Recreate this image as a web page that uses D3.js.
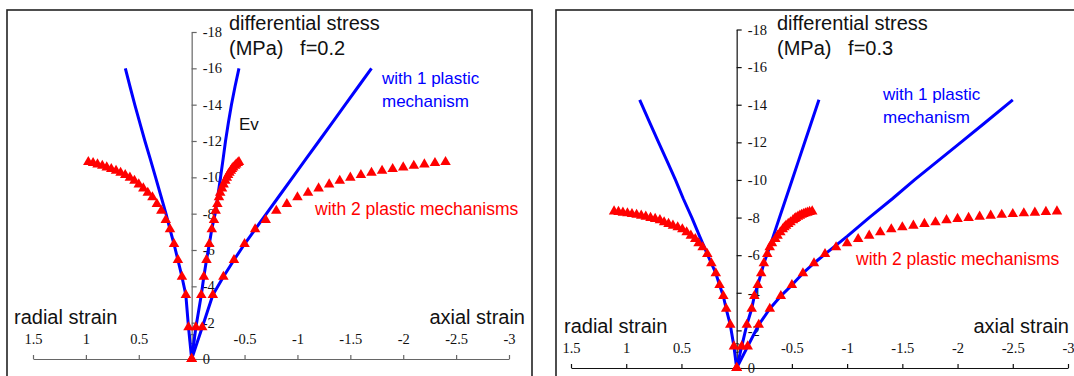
<!DOCTYPE html>
<html>
<head>
<meta charset="utf-8">
<script src="https://cdn.jsdelivr.net/npm/d3@7"></script>
<style>
  body { margin: 0; background: #fff; }
  svg { display: block; }
  .lbl { font-family: "Liberation Sans", Arial, sans-serif; }
  .ax text { font-family: "Liberation Serif", "Times New Roman", serif; font-size: 14.5px; fill: #111; }
</style>
</head>
<body>
<svg id="chart" width="1074" height="376"></svg>
<script>
const xTicks = [1.5, 1, 0.5, 0, -0.5, -1, -1.5, -2, -2.5, -3];
const yTicks = [0, -2, -4, -6, -8, -10, -12, -14, -16, -18];

// f=0.2, two plastic mechanisms (red triangles)
const f02Stress2 = [0, -1.75, -3.52, -4.53, -5.45, -6.33, -7.14, -7.65, -8.16, -8.53, -8.9, -9.15, -9.39, -9.61, -9.81, -9.98, -10.13, -10.25, -10.36, -10.46, -10.55, -10.64, -10.71, -10.79, -10.84];
const f02Axial2  = [0, -0.1, -0.2, -0.3, -0.4, -0.5, -0.6, -0.7, -0.8, -0.9, -1.0, -1.1, -1.2, -1.3, -1.4, -1.5, -1.6, -1.7, -1.8, -1.9, -2.0, -2.1, -2.2, -2.3, -2.4];
const f02Radial2 = [0, 0.03, 0.055, 0.092, 0.13, 0.167, 0.205, 0.245, 0.287, 0.329, 0.371, 0.415, 0.457, 0.5, 0.541, 0.584, 0.628, 0.672, 0.715, 0.76, 0.803, 0.845, 0.89, 0.932, 0.977];
const f02Ev2     = [0, -0.04, -0.091, -0.115, -0.14, -0.167, -0.19, -0.211, -0.227, -0.243, -0.258, -0.27, -0.287, -0.302, -0.318, -0.332, -0.344, -0.357, -0.37, -0.381, -0.393, -0.41, -0.421, -0.436, -0.447];

// f=0.2, one plastic mechanism (blue lines)
const f02Stress1 = [0, -1.75, -3.52, -4.53, -5.45, -6.33, -7.14, -8, -9, -10, -11, -12, -13, -14, -15, -16];
const f02Axial1  = [0, -0.1, -0.2, -0.3, -0.4, -0.5, -0.6, -0.707, -0.831, -0.955, -1.079, -1.204, -1.328, -1.452, -1.576, -1.7];
const f02Radial1 = [0, 0.03, 0.055, 0.092, 0.13, 0.167, 0.205, 0.243, 0.292, 0.341, 0.391, 0.442, 0.49, 0.538, 0.583, 0.627];
const f02Ev1     = [0, -0.04, -0.091, -0.115, -0.14, -0.167, -0.19, -0.222, -0.248, -0.273, -0.297, -0.32, -0.347, -0.376, -0.41, -0.447];

// f=0.3, two plastic mechanisms (red triangles)
const f03Stress2 = [0, -1.15, -2.3, -3.15, -3.83, -4.41, -5.04, -5.57, -6.06, -6.42, -6.63, -6.86, -7.04, -7.22, -7.38, -7.48, -7.57, -7.66, -7.75, -7.86, -7.93, -7.98, -8.05, -8.1, -8.15, -8.19, -8.23, -8.26, -8.3, -8.33];
const f03Axial2  = [0, -0.1, -0.2, -0.3, -0.4, -0.5, -0.6, -0.7, -0.8, -0.9, -1.0, -1.1, -1.2, -1.3, -1.4, -1.5, -1.6, -1.7, -1.8, -1.9, -2.0, -2.1, -2.2, -2.3, -2.4, -2.5, -2.6, -2.7, -2.8, -2.9];
const f03Radial2 = [0, 0.025, 0.058, 0.095, 0.121, 0.155, 0.189, 0.229, 0.266, 0.308, 0.345, 0.375, 0.415, 0.453, 0.492, 0.534, 0.577, 0.617, 0.657, 0.695, 0.738, 0.78, 0.823, 0.864, 0.906, 0.948, 0.989, 1.03, 1.07, 1.11];
const f03Ev2     = [0, -0.046, -0.092, -0.136, -0.16, -0.191, -0.222, -0.246, -0.277, -0.299, -0.32, -0.35, -0.37, -0.395, -0.417, -0.432, -0.447, -0.467, -0.487, -0.51, -0.525, -0.537, -0.555, -0.572, -0.588, -0.605, -0.622, -0.64, -0.66, -0.684];

// f=0.3, one plastic mechanism (blue lines)
const f03Stress1 = [0, -1.15, -2.3, -3.15, -3.83, -4.41, -5.04, -5.57, -6.06, -7, -8, -9, -10, -11, -12, -13, -14.26];
const f03Axial1  = [0, -0.1, -0.2, -0.3, -0.4, -0.5, -0.6, -0.7, -0.8, -1.0, -1.2, -1.41, -1.61, -1.82, -2.03, -2.24, -2.5];
const f03Radial1 = [0, 0.025, 0.058, 0.095, 0.121, 0.155, 0.189, 0.229, 0.266, 0.335, 0.406, 0.483, 0.554, 0.63, 0.707, 0.783, 0.878];
const f03Ev1     = [0, -0.046, -0.092, -0.136, -0.16, -0.191, -0.222, -0.246, -0.277, -0.331, -0.388, -0.445, -0.502, -0.559, -0.616, -0.673, -0.745];

const svg = d3.select("#chart");
const BLUE = "#0000FF", RED = "#FF0000";

const panels = [
  {
    box: [7, 10, 525, 380], xr: [33, 509], yr: [359, 32], axisCol: "#666", f: "0.2",
    s1: f02Stress1, a1: f02Axial1, r1: f02Radial1, e1: f02Ev1,
    s2: f02Stress2, a2: f02Axial2, r2: f02Radial2, e2: f02Ev2,
    title: [229, 30], mpa: [229, 55], ev: [239, 130],
    blueTxt: [382, 84, 107], redTxt: [315, 215],
    radial: [14, 324], axial: [525, 324]
  },
  {
    box: [556, 10, 530, 380], xr: [571, 1068], yr: [368, 29.5], axisCol: "#111", f: "0.3",
    s1: f03Stress1, a1: f03Axial1, r1: f03Radial1, e1: f03Ev1,
    s2: f03Stress2, a2: f03Axial2, r2: f03Radial2, e2: f03Ev2,
    title: [777, 30], mpa: [777, 55], ev: null,
    blueTxt: [883, 100, 123], redTxt: [856, 265],
    radial: [564, 333], axial: [1069, 333]
  }
];

panels.forEach(p => {
  const g = svg.append("g");
  const x = d3.scaleLinear().domain([1.5, -3]).range(p.xr);
  const y = d3.scaleLinear().domain([0, -18]).range(p.yr);

  // frame
  g.append("rect").attr("x", p.box[0]).attr("y", p.box[1]).attr("width", p.box[2]).attr("height", p.box[3])
    .attr("fill", "none").attr("stroke", "#222").attr("stroke-width", 1.6);

  // x axis (ticks point up, labels above)
  const xa = g.append("g").attr("class", "ax").attr("transform", `translate(0,${y(0)})`)
    .call(d3.axisTop(x).tickValues(xTicks).tickSize(4).tickSizeOuter(0).tickPadding(11).tickFormat(d => String(d)));
  // y axis (ticks and labels to the right)
  const ya = g.append("g").attr("class", "ax").attr("transform", `translate(${x(0)},0)`)
    .call(d3.axisRight(y).tickValues(yTicks).tickSize(5).tickSizeOuter(0).tickPadding(6).tickFormat(d => String(d)));
  [xa, ya].forEach(a => {
    a.selectAll("path,line").attr("stroke", p.axisCol).attr("stroke-width", 1.2);
  });

  // one plastic mechanism: blue lines
  const line = d3.line().x(d => x(d[0])).y(d => y(d[1]));
  [p.r1, p.e1, p.a1].forEach(arr => {
    g.append("path").datum(arr.map((v, i) => [v, p.s1[i]])).attr("d", line)
      .attr("fill", "none").attr("stroke", BLUE).attr("stroke-width", 3).attr("stroke-linejoin", "round");
  });

  // two plastic mechanisms: red triangles
  const tri = d3.symbol().type(d3.symbolTriangle).size(48);
  [p.r2, p.e2, p.a2].forEach(arr => {
    g.selectAll(null).data(arr.map((v, i) => [v, p.s2[i]])).enter().append("path")
      .attr("d", tri).attr("transform", d => `translate(${x(d[0])},${y(d[1])})`).attr("fill", RED);
  });

  // labels
  const txt = (xx, yy, s, size, col, anchor) => g.append("text").attr("class", "lbl")
    .attr("x", xx).attr("y", yy).attr("font-size", size).attr("fill", col)
    .attr("text-anchor", anchor || "start").style("white-space", "pre").text(s);
  txt(p.title[0], p.title[1], "differential stress", 20, "#111");
  txt(p.mpa[0], p.mpa[1], "(MPa)   f=" + p.f, 20, "#111");
  if (p.ev) txt(p.ev[0], p.ev[1], "Ev", 17, "#111");
  txt(p.blueTxt[0], p.blueTxt[1], "with 1 plastic", 17, BLUE);
  txt(p.blueTxt[0], p.blueTxt[2], "mechanism", 17, BLUE);
  txt(p.redTxt[0], p.redTxt[1], "with 2 plastic mechanisms", 17.5, RED);
  txt(p.radial[0], p.radial[1], "radial strain", 20, "#111");
  txt(p.axial[0], p.axial[1], "axial strain", 20, "#111", "end");
});
</script>
</body>
</html>
